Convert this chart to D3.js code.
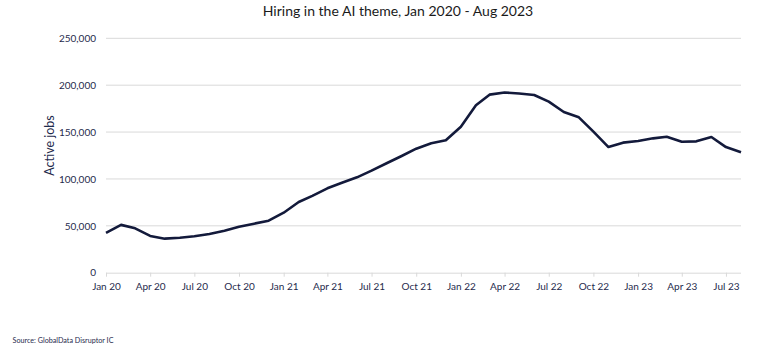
<!DOCTYPE html>
<html>
<head>
<meta charset="utf-8">
<script src="https://cdn.jsdelivr.net/npm/d3@7"></script>
<style>
  html, body { margin: 0; padding: 0; background: #fff; }
  svg { display: block; }
  text { font-family: Lato, "Open Sans", sans-serif; }
</style>
</head>
<body>
<svg id="chart" width="769" height="357"></svg>
<script>
// ---- Data (monthly, Jan 2020 - Aug 2023) ----
const months = [
  "2020-01","2020-02","2020-03","2020-04","2020-05","2020-06","2020-07","2020-08","2020-09","2020-10","2020-11","2020-12",
  "2021-01","2021-02","2021-03","2021-04","2021-05","2021-06","2021-07","2021-08","2021-09","2021-10","2021-11","2021-12",
  "2022-01","2022-02","2022-03","2022-04","2022-05","2022-06","2022-07","2022-08","2022-09","2022-10","2022-11","2022-12",
  "2023-01","2023-02","2023-03","2023-04","2023-05","2023-06","2023-07","2023-08"
];
const activeJobs = [
  42500, 51000, 47300, 39200, 36300, 37300, 38800, 41300, 44800, 49000, 52300, 55500,
  64000, 75400, 82000, 90000, 96000, 101700, 108800, 116700, 124500, 132300, 138000, 141200,
  155700, 178500, 189900, 192200, 191200, 189500, 182400, 171400, 165700, 150400, 134000, 138700,
  140500, 143300, 145000, 139700, 140100, 144700, 134000, 128400
];
const yTicks = [0, 50000, 100000, 150000, 200000, 250000];
const xTickLabels = ["Jan 20","Apr 20","Jul 20","Oct 20","Jan 21","Apr 21","Jul 21","Oct 21",
                     "Jan 22","Apr 22","Jul 22","Oct 22","Jan 23","Apr 23","Jul 23"];
const titleText = "Hiring in the AI theme, Jan 2020 - Aug 2023";
const yAxisTitle = "Active jobs";
const sourceText = "Source: GlobalData Disruptor IC";

// ---- Layout ----
const svg = d3.select("#chart");
const margin = { left: 106, right: 28, top: 38.3, bottom: 84.3 };
const W = 769, H = 357;
const parse = d3.timeParse("%Y-%m");
const dates = months.map(parse);
const data = dates.map((d, i) => ({ date: d, value: activeJobs[i] }));

const x = d3.scaleTime()
  .domain([dates[0], dates[dates.length - 1]])
  .range([margin.left, W - margin.right]);
const y = d3.scaleLinear()
  .domain([0, 250000])
  .range([H - margin.bottom, margin.top]);

// gridlines
svg.append("g")
  .selectAll("line")
  .data(yTicks.filter(t => t > 0))
  .join("line")
  .attr("x1", margin.left).attr("x2", W - margin.right)
  .attr("y1", d => y(d)).attr("y2", d => y(d))
  .attr("stroke", "#d9d9d9").attr("stroke-width", 1);

// y axis labels
const yAxis = d3.axisLeft(y).tickValues(yTicks).tickSize(0).tickPadding(10)
  .tickFormat(d3.format(","));
const gy = svg.append("g").attr("transform", `translate(${margin.left},0)`).call(yAxis);
gy.select(".domain").remove();
gy.selectAll("text").attr("fill", "#1f2b4d").style("font-size", "10px")
  .style("font-family", "Lato, sans-serif");

// x axis
const xTickDates = xTickLabels.map((_, i) => d3.timeMonth.offset(dates[0], i * 3));
const xAxis = d3.axisBottom(x).tickValues(xTickDates).tickSize(4).tickPadding(6)
  .tickFormat((d, i) => xTickLabels[i]);
const gx = svg.append("g").attr("transform", `translate(0,${y(0)})`).call(xAxis);
gx.select(".domain").attr("d", `M${margin.left},0.5H${W - margin.right}`).attr("stroke", "#d9d9d9");
gx.selectAll(".tick line").attr("stroke", "#d9d9d9");
gx.selectAll("text").attr("fill", "#1f2b4d").style("font-size", "10px")
  .style("font-family", "Lato, sans-serif");

// line
const line = d3.line().x(d => x(d.date)).y(d => y(d.value));
svg.append("path").datum(data)
  .attr("d", line)
  .attr("fill", "none")
  .attr("stroke", "#131a3b")
  .attr("stroke-width", 2.6)
  .attr("stroke-linejoin", "round");

// title
svg.append("text")
  .attr("x", 398).attr("y", 15.5)
  .attr("text-anchor", "middle")
  .attr("fill", "#1a1a1a")
  .style("font-size", "14px")
  .text(titleText);

// y axis title
svg.append("text")
  .attr("transform", `translate(54,145.5) rotate(-90)`)
  .attr("text-anchor", "middle")
  .attr("fill", "#1f2b4d")
  .style("font-size", "12.5px")
  .text(yAxisTitle);

// source
svg.append("text")
  .attr("x", 12.5).attr("y", 342.5)
  .attr("fill", "#1f2b4d")
  .style("font-size", "7.2px")
  .text(sourceText);
</script>
</body>
</html>
